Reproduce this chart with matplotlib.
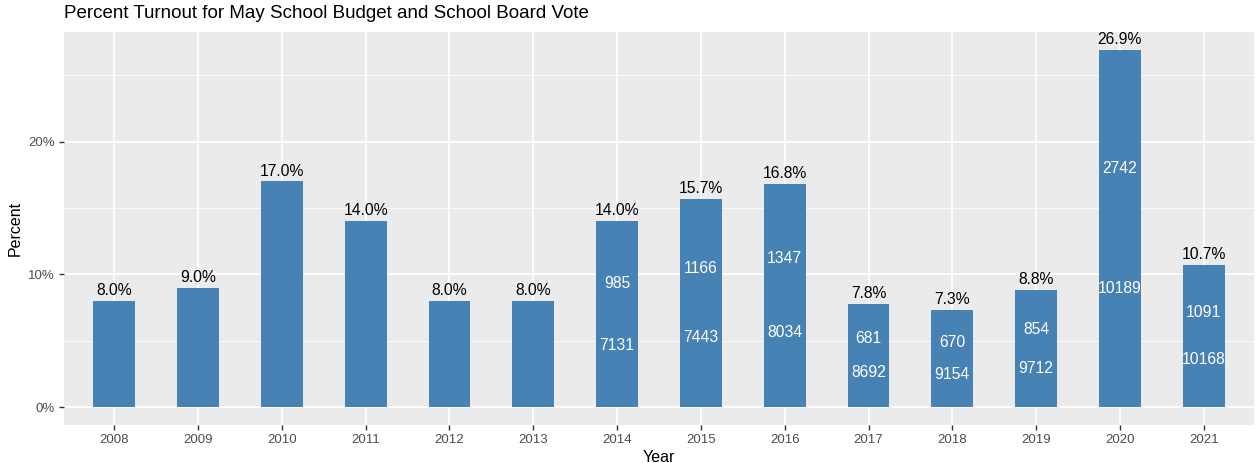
import matplotlib
matplotlib.use("Agg")
import matplotlib.pyplot as plt
from matplotlib.ticker import MultipleLocator, FuncFormatter

years = ["2008", "2009", "2010", "2011", "2012", "2013", "2014",
         "2015", "2016", "2017", "2018", "2019", "2020", "2021"]
percent = [8.0, 9.0, 17.0, 14.0, 8.0, 8.0, 14.0, 15.7, 16.8, 7.8, 7.3, 8.8, 26.9, 10.7]
votes = [None, None, None, None, None, None, 985, 1166, 1347, 681, 670, 854, 2742, 1091]
registered = [None, None, None, None, None, None, 7131, 7443, 8034, 8692, 9154, 9712, 10189, 10168]

plt.rcParams['font.family'] = ['Liberation Sans', 'DejaVu Sans']

fig = plt.figure(figsize=(12.56, 4.63), dpi=100)
ax = fig.add_axes([64/1256, 1-425/463, (1254-64)/1256, (425-32)/463])
ax.set_facecolor('#EBEBEB')

x = list(range(len(years)))
ax.bar(x, percent, width=0.5, color='#4682B4', zorder=3)

for xi, p in zip(x, percent):
    ax.annotate(f"{p:.1f}%", (xi, p), xytext=(0, 2), textcoords='offset points',
                ha='center', va='bottom', fontsize=11.3, color='black', zorder=4)
for xi, p, v, r in zip(x, percent, votes, registered):
    if v is not None:
        ax.text(xi, p * 2 / 3, str(v), ha='center', va='center', fontsize=11.3,
                color='white', zorder=4)
        ax.text(xi, p / 3, str(r), ha='center', va='center', fontsize=11.3,
                color='white', zorder=4)

top = max(percent)
ax.set_ylim(-0.05 * top, top * 1.05)
ax.set_xlim(-0.6, len(years) - 1 + 0.6)
ax.set_xticks(x)
ax.set_xticklabels(years)
ax.yaxis.set_major_locator(MultipleLocator(10))
ax.yaxis.set_minor_locator(MultipleLocator(5))
ax.yaxis.set_major_formatter(FuncFormatter(lambda v, _: f"{v:.0f}%"))

ax.grid(which='major', color='white', linewidth=1.3, zorder=0)
ax.grid(which='minor', axis='y', color='white', linewidth=0.6, zorder=0)
ax.set_axisbelow(True)
for s in ax.spines.values():
    s.set_visible(False)
ax.tick_params(axis='both', which='major', length=3.5, width=1, color='#333333',
               labelcolor='#4D4D4D', labelsize=9.5, pad=3)
ax.tick_params(axis='y', which='minor', length=0)

ax.set_xlabel("Year", fontsize=11.5, color='black', labelpad=3)
ax.set_ylabel("Percent", fontsize=11.5, color='black', labelpad=4)
fig.text(64/1256, 1-14/463, "Percent Turnout for May School Budget and School Board Vote",
         fontsize=13.5, color='black', ha='left', va='center')

fig.savefig("out.png", dpi=100, facecolor='white')
